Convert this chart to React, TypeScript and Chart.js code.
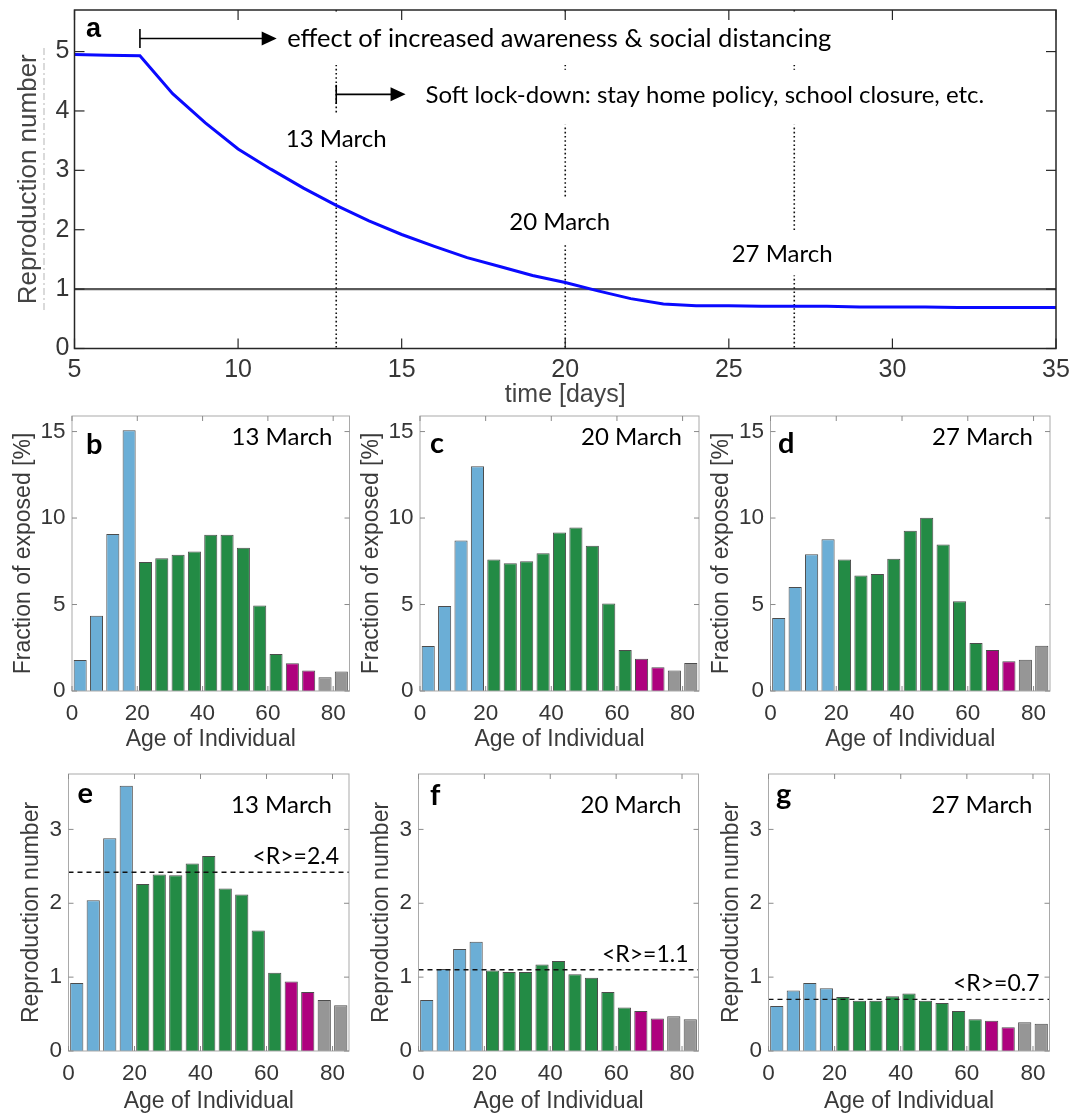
import React, { useEffect, useRef } from 'react';
import { Chart, registerables } from 'chart.js';

Chart.register(...registerables);
Chart.defaults.font.family = '"Liberation Sans", Arial, sans-serif';

// ---------------- data ----------------
const days = [5, 6, 7, 8, 9, 10, 11, 12, 13, 14, 15, 16, 17, 18, 19, 20, 21, 22, 23, 24, 25, 26, 27, 28, 29, 30, 31, 32, 33, 34, 35];
const reproductionNumber = [4.95, 4.94, 4.93, 4.29, 3.8, 3.36, 3.02, 2.7, 2.41, 2.15, 1.92, 1.72, 1.53, 1.38, 1.23, 1.11, 0.97, 0.84, 0.75, 0.72, 0.72, 0.71, 0.71, 0.71, 0.7, 0.7, 0.7, 0.69, 0.69, 0.69, 0.69];
const thresholdR = 1;
const eventDays = [13, 20, 27];
const dateLabels = ['13 March', '20 March', '27 March'];
const dateLabelDay = [13, 19.83, 26.63];
const dateLabelR = [3.4, 1.99, 1.45];
const policyTexts = ['effect of increased awareness & social distancing', 'Soft lock-down: stay home policy, school closure, etc.'];
const policyStartDay = [7, 13];
const policyArrowEndDay = [11.18, 15.12];
const policyTextDay = [11.5, 15.73];
const policyR = [5.22, 4.28];

const ageCenters = [2.5, 7.5, 12.5, 17.5, 22.5, 27.5, 32.5, 37.5, 42.5, 47.5, 52.5, 57.5, 62.5, 67.5, 72.5, 77.5, 82.5];
const ageGroups = ['young', 'young', 'young', 'young', 'adult', 'adult', 'adult', 'adult', 'adult', 'adult', 'adult', 'adult', 'adult', 'senior', 'senior', 'old', 'old'];

const exposedMar13 = [1.79, 4.35, 9.08, 15.08, 7.46, 7.67, 7.88, 8.07, 9.03, 9.03, 8.28, 4.94, 2.14, 1.6, 1.18, 0.8, 1.13];
const exposedMar20 = [2.6, 4.92, 8.7, 13.0, 7.61, 7.39, 7.5, 7.96, 9.16, 9.45, 8.4, 5.06, 2.37, 1.87, 1.37, 1.18, 1.62];
const exposedMar27 = [4.22, 6.01, 7.9, 8.78, 7.61, 6.68, 6.76, 7.65, 9.27, 10.02, 8.47, 5.19, 2.77, 2.37, 1.72, 1.81, 2.61];

const reproMar13 = [0.92, 2.04, 2.88, 3.59, 2.26, 2.39, 2.38, 2.54, 2.64, 2.2, 2.12, 1.63, 1.06, 0.94, 0.8, 0.69, 0.62];
const reproMar20 = [0.69, 1.11, 1.38, 1.48, 1.09, 1.07, 1.07, 1.17, 1.22, 1.04, 0.99, 0.8, 0.59, 0.54, 0.44, 0.47, 0.43];
const reproMar27 = [0.61, 0.82, 0.92, 0.85, 0.73, 0.68, 0.68, 0.74, 0.78, 0.68, 0.65, 0.54, 0.43, 0.41, 0.32, 0.39, 0.37];

const meanR = [2.42, 1.1, 0.7];
const meanRLabels = ['<R>=2.4', '<R>=1.1', '<R>=0.7'];

// ---------------- styles ----------------
const groupColor: any = { young: '#6baed6', adult: '#238b45', senior: '#ae017e', old: '#969696' };
const TICK_COLOR = '#363636';
const ANNOT_FONT = 'Lato, "Open Sans", sans-serif';
const policyFontSize = [25.5, 24];

function line(ctx: any, x0: number, y0: number, x1: number, y1: number) {
  ctx.beginPath();
  ctx.moveTo(x0, y0);
  ctx.lineTo(x1, y1);
  ctx.stroke();
}

function drawInnerTicks(ctx: any, ca: any, xs: any, ys: any, len: number) {
  xs.ticks.forEach((t: any) => {
    const px = xs.getPixelForValue(t.value);
    line(ctx, px, ca.bottom, px, ca.bottom - len);
    line(ctx, px, ca.top, px, ca.top + len);
  });
  ys.ticks.forEach((t: any) => {
    const py = ys.getPixelForValue(t.value);
    line(ctx, ca.left, py, ca.left + len, py);
    line(ctx, ca.right, py, ca.right - len, py);
  });
}

// ---------------- panel a ----------------
const panelA = { rect: { x: 0, y: -10, w: 1085, h: 422 }, plot: { l: 74.5, t: 10, r: 1056, b: 348.5 } };

function LinePanel() {
  const ref = useRef<HTMLCanvasElement | null>(null);
  useEffect(() => {
    const { rect, plot } = panelA;
    const plugin = {
      id: 'panelADecor',
      beforeDatasetsDraw(chart: any) {
        const { ctx, chartArea: ca, scales } = chart;
        const xs = scales.x, ys = scales.y;
        ctx.save();
        ctx.strokeStyle = '#5a5a5a';
        ctx.lineWidth = 2.4;
        const y1 = ys.getPixelForValue(thresholdR);
        line(ctx, ca.left, y1, ca.right, y1);
        ctx.setLineDash([1.6, 2.6]);
        ctx.strokeStyle = '#111';
        ctx.lineWidth = 1.6;
        eventDays.forEach((d) => {
          const px = xs.getPixelForValue(d);
          line(ctx, px, ca.top, px, ca.bottom);
        });
        ctx.restore();
      },
      afterDatasetsDraw(chart: any) {
        const { ctx, scales } = chart;
        const xs = scales.x, ys = scales.y;
        ctx.save();
        ctx.textBaseline = 'alphabetic';
        ctx.textAlign = 'left';
        // policy texts with arrows
        policyTexts.forEach((txt, i) => {
          ctx.font = policyFontSize[i] + 'px ' + ANNOT_FONT;
          const yA = ys.getPixelForValue(policyR[i]);
          const base = yA + 8.5;
          const left = xs.getPixelForValue(policyTextDay[i]);
          const w = ctx.measureText(txt).width;
          ctx.fillStyle = '#fff';
          ctx.fillRect(left - 8, base - 33, w + 16, i === 0 ? 51 : 55);
          ctx.fillStyle = '#000';
          ctx.fillText(txt, left, base);
          const x0 = xs.getPixelForValue(policyStartDay[i]);
          const x1 = xs.getPixelForValue(policyArrowEndDay[i]);
          ctx.strokeStyle = '#000';
          ctx.lineWidth = 1.6;
          line(ctx, x0, yA - 9.5, x0, yA + 9.5);
          line(ctx, x0, yA, x1 - 12, yA);
          ctx.beginPath();
          ctx.moveTo(x1, yA);
          ctx.lineTo(x1 - 15, yA - 7);
          ctx.lineTo(x1 - 15, yA + 7);
          ctx.closePath();
          ctx.fill();
        });
        // date labels
        ctx.font = '24px ' + ANNOT_FONT;
        dateLabels.forEach((txt, i) => {
          const cx = xs.getPixelForValue(dateLabelDay[i]);
          const base = ys.getPixelForValue(dateLabelR[i]);
          const w = ctx.measureText(txt).width;
          ctx.fillStyle = '#fff';
          ctx.fillRect(cx - w / 2 - 6, base - 32, w + 12, 45);
          ctx.fillStyle = '#000';
          ctx.fillText(txt, cx - w / 2, base);
        });
        ctx.restore();
      },
      afterDraw(chart: any) {
        const { ctx, chartArea: ca, scales } = chart;
        ctx.save();
        ctx.strokeStyle = '#262626';
        ctx.lineWidth = 1.5;
        ctx.strokeRect(ca.left, ca.top, ca.right - ca.left, ca.bottom - ca.top);
        ctx.lineWidth = 1.2;
        drawInnerTicks(ctx, ca, scales.x, scales.y, 10);
        // panel letter
        ctx.fillStyle = '#000';
        ctx.font = 'bold 27px "Liberation Sans", Arial, sans-serif';
        ctx.textAlign = 'left';
        ctx.textBaseline = 'alphabetic';
        ctx.fillText('a', ca.left + 11.5, ca.top + 27);
        // axis titles
        ctx.fillStyle = '#444';
        ctx.font = '25px "Liberation Sans", Arial, sans-serif';
        ctx.textAlign = 'center';
        ctx.textBaseline = 'middle';
        ctx.fillText('time [days]', (ca.left + ca.right) / 2, ca.bottom + 46.5);
        ctx.save();
        ctx.translate(ca.left - 45.5, (ca.top + ca.bottom) / 2);
        ctx.rotate(-Math.PI / 2);
        ctx.font = '26px "Liberation Sans", Arial, sans-serif';
        ctx.fillText('Reproduction number', 0, 0);
        ctx.restore();
        // faint dash-dot trace next to the axis title
        ctx.strokeStyle = '#b5b5b5';
        ctx.lineWidth = 1;
        ctx.setLineDash([7, 3, 2, 3]);
        line(ctx, ca.left - 30.5, ca.top + 38, ca.left - 30.5, ca.top + 300);
        ctx.restore();
      },
    };
    const chart = new Chart(ref.current as any, {
      type: 'line',
      data: {
        datasets: [
          {
            data: days.map((d, i) => ({ x: d, y: reproductionNumber[i] })),
            borderColor: '#0a0aff',
            borderWidth: 3,
            pointRadius: 0,
            tension: 0,
            fill: false,
          },
        ],
      },
      options: {
        responsive: false,
        animation: false,
        layout: { padding: { top: plot.t - rect.y, right: rect.x + rect.w - plot.r, left: 0, bottom: 0 } },
        plugins: { legend: { display: false }, tooltip: { enabled: false } },
        scales: {
          x: {
            type: 'linear',
            min: 5,
            max: 35,
            grid: { display: false, drawTicks: false, tickLength: 0 },
            border: { display: false },
            ticks: { stepSize: 5, includeBounds: false, padding: 7, font: { size: 25 }, color: TICK_COLOR, maxRotation: 0, autoSkip: false },
            afterFit: (s: any) => { s.height = rect.y + rect.h - plot.b; },
          },
          y: {
            type: 'linear',
            min: 0,
            max: 5.7,
            grid: { display: false, drawTicks: false, tickLength: 0 },
            border: { display: false },
            ticks: { stepSize: 1, includeBounds: false, padding: 5, font: { size: 25 }, color: TICK_COLOR },
            afterFit: (s: any) => { s.width = plot.l - rect.x; },
          },
        },
      } as any,
      plugins: [plugin],
    });
    return () => chart.destroy();
  }, []);
  const { rect } = panelA;
  return (
    <canvas
      ref={ref}
      width={rect.w}
      height={rect.h}
      style={{ position: 'absolute', left: rect.x, top: rect.y, width: rect.w, height: rect.h }}
    />
  );
}

// ---------------- panels b-g ----------------
const row2 = { y: 396, h: 359, t: 413, b: 691 };
const row3 = { y: 754, h: 361, t: 771, b: 1051 };

const barPanels = [
  { letter: 'b', date: dateLabels[0], values: exposedMar13, ymax: 15.9, ytitle: 'Fraction of exposed [%]', rect: { x: 0, y: row2.y, w: 358, h: row2.h }, plot: { l: 72, t: row2.t, r: 349.5, b: row2.b }, letterOff: [14, 38] },
  { letter: 'c', date: dateLabels[1], values: exposedMar20, ymax: 15.9, ytitle: 'Fraction of exposed [%]', rect: { x: 355, y: row2.y, w: 358, h: row2.h }, plot: { l: 420, t: row2.t, r: 699, b: row2.b }, letterOff: [10, 37] },
  { letter: 'd', date: dateLabels[2], values: exposedMar27, ymax: 15.9, ytitle: 'Fraction of exposed [%]', rect: { x: 705, y: row2.y, w: 380, h: row2.h }, plot: { l: 770.5, t: row2.t, r: 1050, b: row2.b }, letterOff: [7.5, 37] },
  { letter: 'e', date: dateLabels[0], values: reproMar13, ymax: 3.75, ytitle: 'Reproduction number', rect: { x: 0, y: row3.y, w: 358, h: row3.h }, plot: { l: 68.5, t: row3.t, r: 349, b: row3.b }, letterOff: [9, 29], mean: meanR[0], meanLabel: meanRLabels[0] },
  { letter: 'f', date: dateLabels[1], values: reproMar20, ymax: 3.75, ytitle: 'Reproduction number', rect: { x: 355, y: row3.y, w: 358, h: row3.h }, plot: { l: 418.5, t: row3.t, r: 698.5, b: row3.b }, letterOff: [11.5, 31], mean: meanR[1], meanLabel: meanRLabels[1] },
  { letter: 'g', date: dateLabels[2], values: reproMar27, ymax: 3.75, ytitle: 'Reproduction number', rect: { x: 705, y: row3.y, w: 380, h: row3.h }, plot: { l: 768.5, t: row3.t, r: 1049.5, b: row3.b }, letterOff: [7.5, 30], mean: meanR[2], meanLabel: meanRLabels[2] },
];

function BarPanel({ cfg, rowIndex }: any) {
  const ref = useRef<HTMLCanvasElement | null>(null);
  useEffect(() => {
    const { rect, plot } = cfg;
    const isTop = rowIndex === 0;
    const plugin = {
      id: 'barDecor',
      afterDraw(chart: any) {
        const { ctx, chartArea: ca, scales } = chart;
        const xs = scales.x, ys = scales.y;
        ctx.save();
        if (cfg.mean !== undefined) {
          const yy = ys.getPixelForValue(cfg.mean);
          ctx.setLineDash([5, 4]);
          ctx.strokeStyle = '#111';
          ctx.lineWidth = 1.3;
          line(ctx, ca.left, yy, ca.right, yy);
          ctx.setLineDash([]);
          ctx.font = '23px ' + ANNOT_FONT;
          ctx.fillStyle = '#000';
          ctx.textAlign = 'right';
          ctx.textBaseline = 'alphabetic';
          ctx.fillText(cfg.meanLabel, ca.right - 10, yy - 8);
        }
        ctx.strokeStyle = '#a9a9a9';
        ctx.lineWidth = 1;
        ctx.strokeRect(ca.left, ca.top, ca.right - ca.left, ca.bottom - ca.top);
        ctx.strokeStyle = '#8a8a8a';
        drawInnerTicks(ctx, ca, xs, ys, 5);
        // letter
        ctx.fillStyle = '#000';
        ctx.textAlign = 'left';
        ctx.textBaseline = 'alphabetic';
        ctx.font = 'bold 29px ' + ANNOT_FONT;
        ctx.fillText(cfg.letter, ca.left + cfg.letterOff[0], ca.top + cfg.letterOff[1]);
        // date
        ctx.font = '24px ' + ANNOT_FONT;
        ctx.textAlign = 'right';
        ctx.fillText(cfg.date, ca.right - 17, ca.top + (isTop ? 29 : 39));
        // axis titles
        ctx.fillStyle = '#3a3a3a';
        ctx.font = '23px "Liberation Sans", Arial, sans-serif';
        ctx.textAlign = 'center';
        ctx.textBaseline = 'middle';
        ctx.fillText('Age of Individual', (ca.left + ca.right) / 2, ca.bottom + (isTop ? 49 : 50.5));
        ctx.save();
        ctx.translate(ca.left - (isTop ? 48.5 : 36.7), (ca.top + ca.bottom) / 2);
        ctx.rotate(-Math.PI / 2);
        ctx.fillText(cfg.ytitle, 0, 0);
        ctx.restore();
        ctx.restore();
      },
    };
    const chart = new Chart(ref.current as any, {
      type: 'bar',
      data: {
        datasets: [
          {
            data: ageCenters.map((a, i) => ({ x: a, y: cfg.values[i] })),
            backgroundColor: ageGroups.map((g) => groupColor[g]),
            borderColor: 'rgba(45,45,45,0.85)',
            borderWidth: 1,
            categoryPercentage: 1,
            barPercentage: 0.8,
          },
        ],
      },
      options: {
        responsive: false,
        animation: false,
        layout: { padding: { top: plot.t - rect.y, right: rect.x + rect.w - plot.r, left: 0, bottom: 0 } },
        plugins: { legend: { display: false }, tooltip: { enabled: false } },
        scales: {
          x: {
            type: 'linear',
            offset: false,
            min: 0,
            max: 85,
            grid: { display: false, drawTicks: false, tickLength: 0, offset: false },
            border: { display: false },
            ticks: { stepSize: 20, includeBounds: false, padding: 9, font: { size: 22.5 }, color: TICK_COLOR, maxRotation: 0, autoSkip: false },
            afterFit: (s: any) => { s.height = rect.y + rect.h - plot.b; },
          },
          y: {
            type: 'linear',
            min: 0,
            max: cfg.ymax,
            grid: { display: false, drawTicks: false, tickLength: 0 },
            border: { display: false },
            ticks: { stepSize: isTop ? 5 : 1, includeBounds: false, padding: 6.5, font: { size: 22.5 }, color: TICK_COLOR },
            afterFit: (s: any) => { s.width = plot.l - rect.x; },
          },
        },
      } as any,
      plugins: [plugin],
    });
    return () => chart.destroy();
  }, []);
  const { rect } = cfg;
  return (
    <canvas
      ref={ref}
      width={rect.w}
      height={rect.h}
      style={{ position: 'absolute', left: rect.x, top: rect.y, width: rect.w, height: rect.h }}
    />
  );
}

export default function App() {
  return (
    <div style={{ position: 'absolute', left: 0, top: 0, width: 1085, height: 1115, background: '#fff', overflow: 'hidden' }}>
      <LinePanel />
      {barPanels.map((cfg, i) => (
        <BarPanel key={cfg.letter} cfg={cfg} rowIndex={i < 3 ? 0 : 1} />
      ))}
    </div>
  );
}
